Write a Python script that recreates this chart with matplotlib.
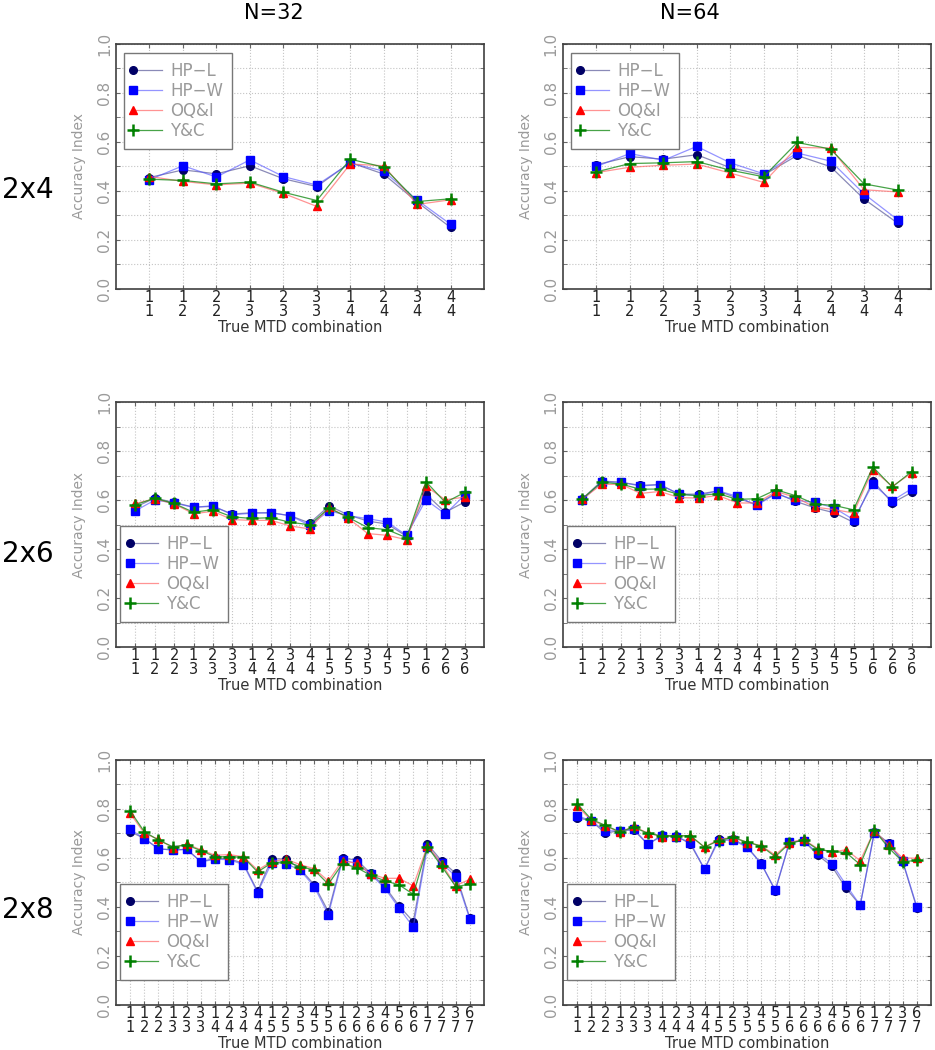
import matplotlib
matplotlib.use("Agg")
import matplotlib.pyplot as plt
from matplotlib.legend_handler import HandlerLine2D
import numpy as np

# x tick labels: first MTD over second MTD
top_2x4 = [1, 1, 2, 1, 2, 3, 1, 2, 3, 4]
bot_2x4 = [1, 2, 2, 3, 3, 3, 4, 4, 4, 4]
top_2x6 = [1, 1, 2, 1, 2, 3, 1, 2, 3, 4, 1, 2, 3, 4, 5, 1, 2, 3]
bot_2x6 = [1, 2, 2, 3, 3, 3, 4, 4, 4, 4, 5, 5, 5, 5, 5, 6, 6, 6]
top_2x8 = [1, 1, 2, 1, 2, 3, 1, 2, 3, 4, 1, 2, 3, 4, 5, 1, 2, 3, 4, 5, 6, 1, 2, 3, 6]
bot_2x8 = [1, 2, 2, 3, 3, 3, 4, 4, 4, 4, 5, 5, 5, 5, 5, 6, 6, 6, 6, 6, 6, 7, 7, 7, 7]

# 2x4, N=32
hpl_4_32 = [0.455, 0.486, 0.470, 0.503, 0.450, 0.418, 0.516, 0.469, 0.355, 0.251]
hpw_4_32 = [0.446, 0.503, 0.457, 0.527, 0.459, 0.424, 0.514, 0.481, 0.363, 0.264]
oqi_4_32 = [0.459, 0.439, 0.425, 0.432, 0.390, 0.337, 0.510, 0.503, 0.345, 0.364]
yc_4_32 = [0.448, 0.443, 0.429, 0.436, 0.395, 0.361, 0.530, 0.497, 0.357, 0.368]

# 2x4, N=64
hpl_4_64 = [0.507, 0.540, 0.530, 0.548, 0.495, 0.465, 0.545, 0.499, 0.367, 0.269]
hpw_4_64 = [0.500, 0.553, 0.525, 0.582, 0.515, 0.470, 0.555, 0.522, 0.388, 0.283]
oqi_4_64 = [0.475, 0.497, 0.505, 0.510, 0.473, 0.435, 0.578, 0.575, 0.405, 0.396]
yc_4_64 = [0.478, 0.512, 0.515, 0.520, 0.485, 0.458, 0.598, 0.571, 0.429, 0.404]

# 2x6, N=32
hpl_6_32 = [0.571, 0.608, 0.590, 0.571, 0.574, 0.543, 0.548, 0.548, 0.536, 0.506,
            0.576, 0.539, 0.514, 0.502, 0.452, 0.624, 0.550, 0.592]
hpw_6_32 = [0.556, 0.600, 0.588, 0.570, 0.577, 0.540, 0.546, 0.548, 0.536, 0.497,
            0.556, 0.536, 0.524, 0.510, 0.456, 0.601, 0.543, 0.620]
oqi_6_32 = [0.586, 0.605, 0.584, 0.544, 0.554, 0.520, 0.517, 0.517, 0.494, 0.482,
            0.571, 0.525, 0.463, 0.456, 0.438, 0.656, 0.601, 0.612]
yc_6_32 = [0.581, 0.607, 0.586, 0.550, 0.561, 0.531, 0.525, 0.528, 0.509, 0.499,
           0.567, 0.529, 0.487, 0.479, 0.446, 0.675, 0.590, 0.631]

# 2x6, N=64
hpl_6_64 = [0.605, 0.678, 0.672, 0.660, 0.663, 0.624, 0.624, 0.637, 0.608, 0.581,
            0.629, 0.595, 0.568, 0.548, 0.509, 0.678, 0.588, 0.631]
hpw_6_64 = [0.600, 0.673, 0.673, 0.657, 0.663, 0.624, 0.618, 0.638, 0.615, 0.578,
            0.626, 0.599, 0.590, 0.568, 0.520, 0.665, 0.597, 0.646]
oqi_6_64 = [0.604, 0.664, 0.664, 0.627, 0.635, 0.610, 0.608, 0.619, 0.588, 0.588,
            0.635, 0.611, 0.571, 0.561, 0.547, 0.724, 0.656, 0.710]
yc_6_64 = [0.605, 0.673, 0.665, 0.644, 0.645, 0.623, 0.618, 0.626, 0.603, 0.605,
           0.642, 0.618, 0.584, 0.578, 0.560, 0.735, 0.653, 0.716]

# 2x8, N=32
hpl_8_32 = [0.707, 0.680, 0.637, 0.633, 0.635, 0.585, 0.599, 0.597, 0.578, 0.464,
            0.597, 0.596, 0.556, 0.491, 0.381, 0.599, 0.592, 0.537, 0.483, 0.404,
            0.340, 0.657, 0.588, 0.537, 0.354]
hpw_8_32 = [0.717, 0.679, 0.637, 0.633, 0.635, 0.584, 0.595, 0.593, 0.573, 0.459,
            0.581, 0.577, 0.551, 0.483, 0.369, 0.592, 0.578, 0.533, 0.476, 0.395,
            0.318, 0.644, 0.580, 0.524, 0.350]
oqi_8_32 = [0.782, 0.701, 0.676, 0.642, 0.657, 0.633, 0.611, 0.614, 0.605, 0.551,
            0.585, 0.595, 0.573, 0.556, 0.506, 0.589, 0.578, 0.535, 0.517, 0.517,
            0.486, 0.650, 0.577, 0.487, 0.513]
yc_8_32 = [0.792, 0.707, 0.673, 0.646, 0.653, 0.630, 0.605, 0.605, 0.603, 0.543,
           0.580, 0.585, 0.565, 0.551, 0.493, 0.577, 0.561, 0.529, 0.507, 0.490,
           0.452, 0.646, 0.567, 0.483, 0.493]

# 2x8, N=64
hpl_8_64 = [0.765, 0.751, 0.701, 0.712, 0.714, 0.656, 0.693, 0.690, 0.657, 0.554,
            0.679, 0.678, 0.646, 0.578, 0.467, 0.663, 0.671, 0.612, 0.566, 0.476,
            0.407, 0.707, 0.661, 0.585, 0.396]
hpw_8_64 = [0.773, 0.751, 0.710, 0.712, 0.718, 0.656, 0.690, 0.687, 0.663, 0.554,
            0.671, 0.673, 0.644, 0.577, 0.468, 0.665, 0.671, 0.619, 0.577, 0.490,
            0.407, 0.703, 0.659, 0.588, 0.401]
oqi_8_64 = [0.812, 0.754, 0.731, 0.705, 0.729, 0.701, 0.687, 0.691, 0.690, 0.644,
            0.676, 0.684, 0.663, 0.650, 0.612, 0.663, 0.676, 0.638, 0.623, 0.634,
            0.589, 0.712, 0.653, 0.600, 0.599]
yc_8_64 = [0.822, 0.758, 0.733, 0.707, 0.725, 0.701, 0.690, 0.690, 0.691, 0.644,
           0.671, 0.684, 0.665, 0.649, 0.605, 0.660, 0.673, 0.635, 0.627, 0.622,
           0.573, 0.713, 0.642, 0.585, 0.590]

names = ["HP\u2212L", "HP\u2212W", "OQ&I", "Y&C"]
# (line colour, marker colour, marker, size)
styles = [((0.35, 0.35, 0.6, 0.7), "#000066", "o", 5.5),
          ((0.3, 0.3, 1.0, 0.6), "#0000ff", "s", 5.5),
          ((1.0, 0.4, 0.4, 0.7), "#ff0000", "^", 5.5),
          ((0.1, 0.55, 0.1, 0.8), "#008000", "+", 8)]


class LeftMarker(HandlerLine2D):
    # marker at the left end of the legend line, like the original
    def create_artists(self, *args, **kwargs):
        arts = super().create_artists(*args, **kwargs)
        for a in arts:
            a.set_markevery([0])
        return arts


fig = plt.figure(figsize=(9.35, 10.5), dpi=100)

panels = [
    (0, 0, top_2x4, bot_2x4, [hpl_4_32, hpw_4_32, oqi_4_32, yc_4_32], "upper"),
    (0, 1, top_2x4, bot_2x4, [hpl_4_64, hpw_4_64, oqi_4_64, yc_4_64], "upper"),
    (1, 0, top_2x6, bot_2x6, [hpl_6_32, hpw_6_32, oqi_6_32, yc_6_32], "lower"),
    (1, 1, top_2x6, bot_2x6, [hpl_6_64, hpw_6_64, oqi_6_64, yc_6_64], "lower"),
    (2, 0, top_2x8, bot_2x8, [hpl_8_32, hpw_8_32, oqi_8_32, yc_8_32], "lower"),
    (2, 1, top_2x8, bot_2x8, [hpl_8_64, hpw_8_64, oqi_8_64, yc_8_64], "lower"),
]

row_bottom = [0.7248, 0.3838, 0.0429]
col_left = [0.1241, 0.6021]
ax_w, ax_h = 0.3936, 0.2333
grey = "#9a9a9a"

for row, col, tops, bots, series, legpos in panels:
    ax = fig.add_axes([col_left[col], row_bottom[row], ax_w, ax_h])
    x = np.arange(1, len(tops) + 1)
    for vals, name, (lc, mc, mk, ms) in zip(series, names, styles):
        ax.plot(x, vals, color=lc, lw=0.9, marker=mk, ms=ms,
                mfc=mc, mec=mc, mew=1.8 if mk == "+" else 1, label=name)

    ax.set_xlim(0, len(tops) + 1)
    ax.set_ylim(0, 1.0)
    ax.set_xticks(x)
    ax.set_xticklabels([f"{a}\n{b}" for a, b in zip(tops, bots)],
                       fontsize=10.5, linespacing=0.85, color="#222222")
    ax.set_yticks(np.arange(0, 1.01, 0.2))
    ax.set_yticks(np.arange(0, 1.01, 0.1), minor=True)
    ax.set_yticklabels([f"{v:.1f}" for v in np.arange(0, 1.01, 0.2)],
                       rotation=90, va="center", fontsize=11, color=grey)
    ax.tick_params(which="both", direction="in", length=3, top=True,
                   right=True, color="#666666", pad=3)
    ax.tick_params(axis="x", pad=1)
    ax.grid(True, which="both", ls=":", lw=0.8, color="#c4c4c4")
    for s in ax.spines.values():
        s.set_color("#404040")
        s.set_linewidth(1.2)

    ax.set_ylabel("Accuracy Index", color=grey, fontsize=10, labelpad=8)
    ax.set_xlabel("True MTD combination", color="#333333", fontsize=10.5,
                  labelpad=1)

    if legpos == "upper":
        anchor, loc = (0.022, 0.963), "upper left"
    else:
        anchor, loc = (0.012, 0.102), "lower left"
    leg = ax.legend(loc=loc, bbox_to_anchor=anchor, fontsize=12,
                    handler_map={l: LeftMarker(numpoints=1) for l in ax.get_lines()},
                    fancybox=False, framealpha=1, edgecolor="#777777",
                    handlelength=1.7, handletextpad=0.5, labelspacing=0.12,
                    borderpad=0.55, borderaxespad=0)
    leg.get_frame().set_linewidth(1.0)
    for t in leg.get_texts():
        t.set_color(grey)

fig.text(0.293, 0.988, "N=32", fontsize=15, ha="center", va="center")
fig.text(0.738, 0.988, "N=64", fontsize=15, ha="center", va="center")
for y, lab in zip([0.819, 0.472, 0.133], ["2x4", "2x6", "2x8"]):
    fig.text(0.002, y, lab, fontsize=20, ha="left", va="center")

fig.savefig("out.png", dpi=100)
